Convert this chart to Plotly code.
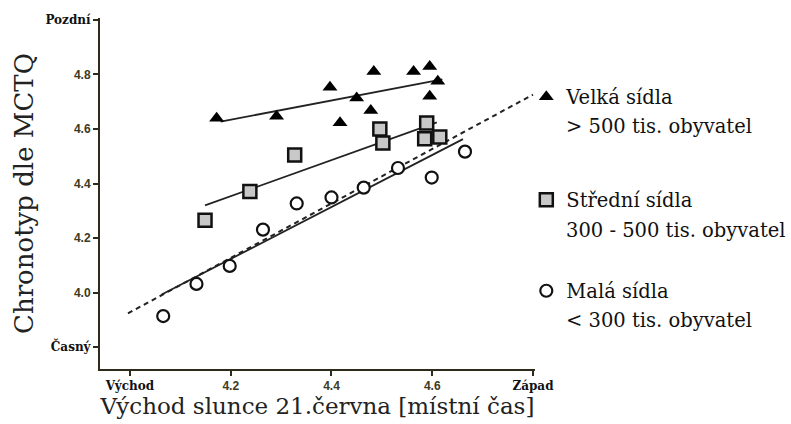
import plotly.graph_objects as go

# --- data ---
tri_x = [4.172, 4.291, 4.397, 4.417, 4.450, 4.478, 4.484, 4.563, 4.595, 4.595, 4.611]
tri_y = [4.639, 4.647, 4.753, 4.623, 4.714, 4.668, 4.811, 4.811, 4.829, 4.720, 4.775]

sq_x = [4.149, 4.238, 4.327, 4.496, 4.502, 4.589, 4.585, 4.615]
sq_y = [4.265, 4.371, 4.505, 4.600, 4.549, 4.622, 4.564, 4.571]

ci_x = [4.066, 4.132, 4.198, 4.264, 4.331, 4.400, 4.464, 4.532, 4.599, 4.665]
ci_y = [3.914, 4.032, 4.098, 4.231, 4.327, 4.349, 4.385, 4.457, 4.422, 4.517]

# regression line end points
tri_fit_x = [4.18, 4.62]
tri_fit_y = [4.627, 4.782]
sq_fit_x = [4.149, 4.609]
sq_fit_y = [4.320, 4.624]
ci_fit_x = [4.063, 4.661]
ci_fit_y = [3.993, 4.563]
all_fit_x = [3.996, 4.80]
all_fit_y = [3.924, 4.726]

x_tickvals = [4.0, 4.2, 4.4, 4.6, 4.8]
y_tickvals = [3.8, 4.0, 4.2, 4.4, 4.6, 4.8, 5.0]

series_names = ["Velká sídla", "Střední sídla", "Malá sídla"]
series_sub = ["> 500 tis. obyvatel", "300 - 500 tis. obyvatel", "< 300 tis. obyvatel"]

SERIF = "DejaVu Serif"
AX = "#2e2b1c"
LEG_SIZE = 19.5

def word(t):
    return f"<span style='font-family:{SERIF};color:#111'><b>{t}</b></span>"

def num(v):
    return f"<b>{v:.1f}</b>"

x_ticktext = [word("Východ")] + [num(v) for v in x_tickvals[1:-1]] + [word("Západ")]
y_ticktext = [word("Časný")] + [num(v) for v in y_tickvals[1:-1]] + [word("Pozdní")]

fig = go.Figure()
line_style = dict(color="#222", width=1.8)
fig.add_trace(go.Scatter(x=all_fit_x, y=all_fit_y, mode="lines", showlegend=False,
                         line=dict(color="#222", width=2, dash="5px,4px")))
fig.add_trace(go.Scatter(x=tri_fit_x, y=tri_fit_y, mode="lines", showlegend=False, line=line_style))
fig.add_trace(go.Scatter(x=sq_fit_x, y=sq_fit_y, mode="lines", showlegend=False, line=line_style))
fig.add_trace(go.Scatter(x=ci_fit_x, y=ci_fit_y, mode="lines", showlegend=False, line=line_style))

fig.add_trace(go.Scatter(x=tri_x, y=tri_y, mode="markers", legend="legend",
                         name=series_names[0],
                         marker=dict(symbol="triangle-up", size=13, color="#000",
                                     line=dict(color="#000", width=0))))
fig.add_trace(go.Scatter(x=sq_x, y=sq_y, mode="markers", legend="legend2",
                         name=series_names[1],
                         marker=dict(symbol="square", size=13, color="#c8c8c8",
                                     line=dict(color="#111", width=2.5))))
fig.add_trace(go.Scatter(x=ci_x, y=ci_y, mode="markers", legend="legend3",
                         name=series_names[2],
                         marker=dict(symbol="circle", size=12, color="#fff",
                                     line=dict(color="#111", width=2.2))))

# second legend lines, placed under each legend entry
sub_y = [0.692, 0.396, 0.137]
annotations = [
    dict(text=t, x=1.0667, y=yy, xref="paper", yref="paper", xanchor="left",
         yanchor="middle", showarrow=False, font=dict(family=SERIF, size=LEG_SIZE, color="#111"))
    for t, yy in zip(series_sub, sub_y)
]

def leg(y):
    return dict(x=0.98, xanchor="left", y=y, yanchor="middle",
                font=dict(family=SERIF, size=LEG_SIZE, color="#111"),
                valign="middle", bgcolor="rgba(0,0,0,0)")

fig.update_layout(
    width=791, height=424,
    margin=dict(l=100, r=256, t=18, b=55),
    paper_bgcolor="white", plot_bgcolor="white",
    font=dict(family="Liberation Sans", size=12, color="#3d3a22"),
    legend=leg(0.775), legend2=leg(0.481), legend3=leg(0.222),
    annotations=annotations,
    xaxis=dict(range=[3.9405, 4.804], showgrid=False, zeroline=False,
               showline=True, linecolor=AX, linewidth=2,
               ticks="outside", ticklen=5, tickwidth=2, tickcolor=AX,
               tickvals=x_tickvals, ticktext=x_ticktext,
               tickfont=dict(size=12, color="#3d3a22"),
               title=dict(text="Východ slunce 21.června [místní čas]",
                          font=dict(family=SERIF, size=23, color="#222"), standoff=0)),
    yaxis=dict(range=[3.72, 5.007], showgrid=False, zeroline=False,
               showline=True, linecolor=AX, linewidth=2,
               ticks="outside", ticklen=5, tickwidth=2, tickcolor=AX,
               tickvals=y_tickvals, ticktext=y_ticktext,
               tickfont=dict(size=12, color="#3d3a22"),
               title=dict(text="Chronotyp dle MCTQ",
                          font=dict(family=SERIF, size=26, color="#222"), standoff=4)),
)

fig.write_html("out.html")
